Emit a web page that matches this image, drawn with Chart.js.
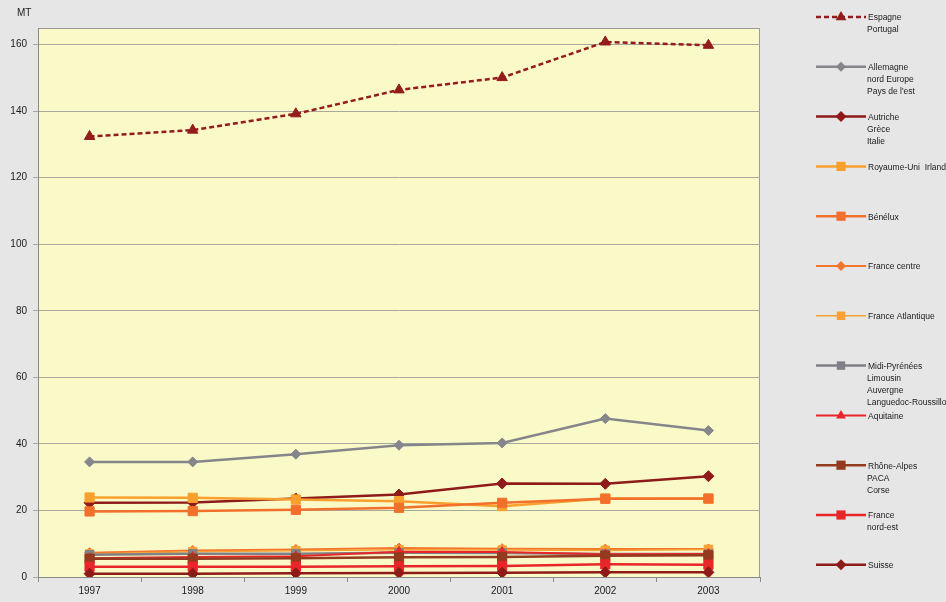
<!DOCTYPE html>
<html>
<head>
<meta charset="utf-8">
<script src="https://cdn.jsdelivr.net/npm/chart.js@4.4.1/dist/chart.umd.min.js"></script>
<style>
    html, body { margin: 0; padding: 0; background: #e6e6e6; }
    #wrap { position: relative; width: 946px; height: 602px; }
</style>
</head>
<body>
<div id="wrap"><canvas id="tonnage"></canvas></div>
<script>
// years on the x axis
const years = ["1997", "1998", "1999", "2000", "2001", "2002", "2003"];

// legend labels, one entry per series (each line of text separately)
const seriesNames = [
    ["Espagne", "Portugal"],
    ["Allemagne", "nord Europe", "Pays de l'est"],
    ["Autriche", "Grèce", "Italie"],
    ["Royaume-Uni  Irlande"],
    ["Bénélux"],
    ["France centre"],
    ["France Atlantique"],
    ["Midi-Pyrénées", "Limousin", "Auvergne", "Languedoc-Roussillon"],
    ["Aquitaine"],
    ["Rhône-Alpes", "PACA", "Corse"],
    ["France", "nord-est"],
    ["Suisse"],
];

// tonnages (MT) per year
const espagnePortugal = [132.4, 134.3, 139.2, 146.4, 150.1, 160.8, 159.8];
const allemagneNord = [34.6, 34.6, 36.9, 39.6, 40.3, 47.6, 44.0];
const autricheGreceItalie = [22.3, 22.4, 23.6, 24.8, 28.1, 28.0, 30.3];
const royaumeUni = [23.9, 23.8, 23.3, 22.8, 21.3, 23.6, 23.5];
const benelux = [19.7, 19.8, 20.2, 20.8, 22.3, 23.5, 23.6];
const franceCentre = [7.3, 8.0, 8.3, 8.7, 8.5, 8.4, 8.4];
const franceAtlantique = [6.9, 7.6, 7.9, 8.2, 8.1, 8.0, 8.3];
const midiPyrenees = [6.7, 7.0, 7.0, 7.3, 7.2, 6.9, 6.9];
const aquitaine = [5.6, 6.0, 6.2, 7.6, 7.5, 6.8, 6.9];
const rhoneAlpes = [5.5, 5.5, 5.6, 5.9, 6.0, 6.4, 6.5];
const franceNordEst = [3.1, 3.1, 3.1, 3.2, 3.3, 3.8, 3.7];
const suisse = [1.0, 1.0, 1.1, 1.2, 1.3, 1.4, 1.4];

const seriesValues = [espagnePortugal, allemagneNord, autricheGreceItalie, royaumeUni, benelux,
    franceCentre, franceAtlantique, midiPyrenees, aquitaine, rhoneAlpes, franceNordEst, suisse];

// look of each series: colour, marker, line width, dash
const seriesStyles = [
    { color: "#931c1c", marker: "triangle", radius: 6, width: 2.5, dash: [5, 3] },
    { color: "#85868b", marker: "rectRot", radius: 5, width: 2.5, dash: [] },
    { color: "#8f1a1a", marker: "rectRot", radius: 5.5, width: 2.5, dash: [] },
    { color: "#f8a02e", marker: "rect", radius: 6.5, width: 2.5, dash: [] },
    { color: "#f2702c", marker: "rect", radius: 6.5, width: 2.5, dash: [] },
    { color: "#f2762e", marker: "rectRot", radius: 5, width: 2, dash: [] },
    { color: "#f8a234", marker: "rect", radius: 6, width: 1.5, dash: [] },
    { color: "#808186", marker: "rect", radius: 6, width: 2.5, dash: [] },
    { color: "#e8262a", marker: "triangle", radius: 5.5, width: 2, dash: [] },
    { color: "#943a1e", marker: "rect", radius: 6.5, width: 2.5, dash: [] },
    { color: "#e8262a", marker: "rect", radius: 6.5, width: 2.5, dash: [] },
    { color: "#8f1a1a", marker: "rectRot", radius: 5.5, width: 2.5, dash: [] },
];

const FONT = "'Liberation Sans', Arial, sans-serif";

function drawMarker(ctx, style, x, y, r, color) {
    ctx.save();
    ctx.fillStyle = color;
    ctx.beginPath();
    if (style === "triangle") {
        ctx.moveTo(x, y - r);
        ctx.lineTo(x + r * 0.9, y + r * 0.55);
        ctx.lineTo(x - r * 0.9, y + r * 0.55);
    } else if (style === "rectRot") {
        ctx.moveTo(x, y - r);
        ctx.lineTo(x + r, y);
        ctx.lineTo(x, y + r);
        ctx.lineTo(x - r, y);
    } else {
        const s = r * Math.SQRT1_2;
        ctx.rect(x - s, y - s, 2 * s, 2 * s);
    }
    ctx.closePath();
    ctx.fill();
    ctx.restore();
}

// grey page, pale yellow plot area with a grey frame
const backgroundPlugin = {
    id: "plotBackground",
    beforeDraw(chart) {
        const { ctx, chartArea: a } = chart;
        ctx.save();
        ctx.fillStyle = "#e6e6e6";
        ctx.fillRect(0, 0, chart.width, chart.height);
        ctx.fillStyle = "#fafac8";
        ctx.fillRect(a.left, a.top, a.right - a.left, a.bottom - a.top);
        ctx.strokeStyle = "#9a9a9a";
        ctx.lineWidth = 1;
        ctx.strokeRect(a.left + 0.5, a.top + 0.5, a.right - a.left - 1, a.bottom - a.top);
        ctx.restore();
    },
};

// legend on the right: line sample with marker, then the label lines
const sideLegendPlugin = {
    id: "sideLegend",
    afterDraw(chart) {
        const ctx = chart.ctx;
        ctx.save();
        ctx.font = "10px " + FONT;
        ctx.fillStyle = "#1a1a1a";
        ctx.textBaseline = "middle";
        ctx.fillText("MT", 17, 13);
        ctx.font = "8.5px " + FONT;
        seriesNames.forEach((lines, i) => {
            const st = seriesStyles[i];
            const y = 17 + i * 49.8;
            ctx.strokeStyle = st.color;
            ctx.lineWidth = st.width;
            ctx.setLineDash(st.dash);
            ctx.beginPath();
            ctx.moveTo(816, y);
            ctx.lineTo(866, y);
            ctx.stroke();
            ctx.setLineDash([]);
            drawMarker(ctx, st.marker, 841, y, st.radius, st.color);
            ctx.fillStyle = "#1a1a1a";
            lines.forEach((txt, k) => {
                ctx.fillText(txt, k === 0 ? 868 : 867, y + 1 + k * 12);
            });
        });
        ctx.restore();
    },
};

const datasets = seriesValues.map((values, i) => {
    const st = seriesStyles[i];
    return {
        label: seriesNames[i].join(" "),
        data: values,
        borderColor: st.color,
        backgroundColor: st.color,
        borderWidth: st.width,
        borderDash: st.dash,
        pointStyle: st.marker,
        pointRadius: st.radius,
        pointBackgroundColor: st.color,
        pointBorderColor: st.color,
        pointBorderWidth: 1,
        tension: 0,
        order: seriesValues.length - i, // later series drawn on top
    };
});

new Chart(document.getElementById("tonnage"), {
    type: "line",
    data: { labels: years, datasets: datasets },
    plugins: [backgroundPlugin, sideLegendPlugin],
    options: {
        responsive: true,
        maintainAspectRatio: false,
        animation: false,
        layout: { padding: { left: 0, top: 28, right: 186, bottom: 0 } },
        plugins: { legend: { display: false }, tooltip: { enabled: false } },
        scales: {
            x: {
                offset: true,
                grid: { offset: true, drawOnChartArea: false, drawTicks: true, tickLength: 5, color: "#8a8a8a" },
                border: { display: true, color: "#8a8a8a" },
                ticks: { color: "#1a1a1a", font: { family: FONT, size: 10 }, padding: 3, maxRotation: 0 },
                afterFit(scale) { scale.height = 25; },
            },
            y: {
                min: 0,
                max: 165,
                grid: { color: "#a8a8a0", tickLength: 5, drawTicks: true },
                border: { display: true, color: "#8a8a8a" },
                ticks: {
                    stepSize: 20,
                    color: "#1a1a1a",
                    font: { family: FONT, size: 10 },
                    padding: 6,
                    callback: (v) => (v % 20 === 0 ? v : null),
                },
                afterFit(scale) { scale.width = 38; },
            },
        },
    },
});
</script>
</body>
</html>
